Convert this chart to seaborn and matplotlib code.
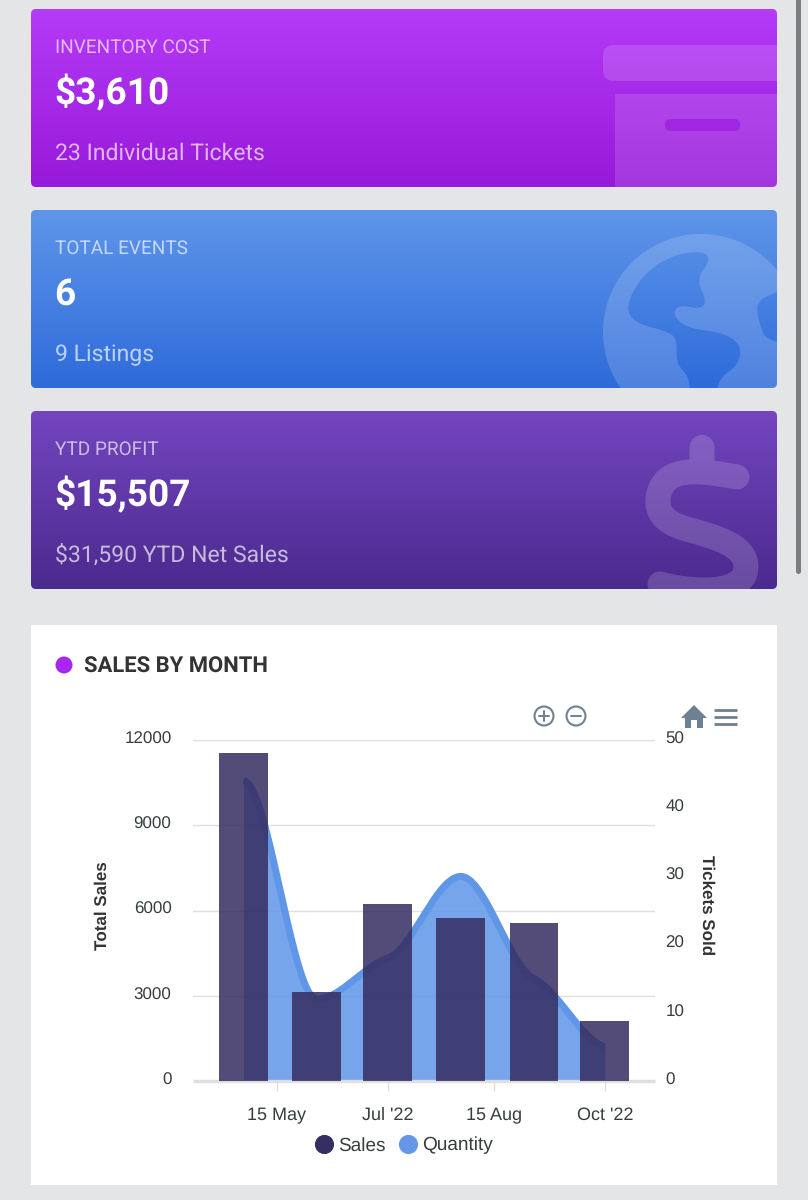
import numpy as np
import pandas as pd
import matplotlib
matplotlib.use("Agg")
import matplotlib.pyplot as plt
import matplotlib.dates as mdates
import matplotlib.transforms as mtransforms
from matplotlib.colors import to_rgb
from matplotlib.lines import Line2D
from matplotlib.patches import FancyBboxPatch, Rectangle, Circle, PathPatch, Polygon
from matplotlib.path import Path
import seaborn as sns

# ---------- data ----------
months = ["2022-05-01", "2022-06-01", "2022-07-01", "2022-08-01", "2022-09-01", "2022-10-01"]
sales = [11550, 3140, 6230, 5740, 5560, 2120]
quantity = [44, 12, 18, 30, 15, 5]
sales_ticks = [0, 3000, 6000, 9000, 12000]
qty_ticks = [0, 10, 20, 30, 40, 50]
x_tick_dates = ["2022-05-15", "2022-07-01", "2022-08-15", "2022-10-01"]
x_tick_labels = ["15 May", "Jul '22", "15 Aug", "Oct '22"]
card_titles = ["INVENTORY COST", "TOTAL EVENTS", "YTD PROFIT"]
card_values = ["$3,610", "6", "$15,507"]
card_subs = ["23 Individual Tickets", "9 Listings", "$31,590 YTD Net Sales"]
card_tops = [9, 210, 411]
card_grads = [("#b53bf7", "#9719d9"), ("#5f96e9", "#2e6bda"), ("#7345bf", "#4b2a8e")]

BG = "#e3e5e7"
W, H = 808, 1200
sns.set_theme(style="white")
plt.rcParams["font.family"] = ["Liberation Sans", "DejaVu Sans"]
plt.rcParams["text.hinting"] = "no_hinting"
plt.rcParams["text.hinting_factor"] = 1

fig = plt.figure(figsize=(W / 100, H / 100), dpi=100, facecolor=BG)

# ---------- page layer in pixel coordinates ----------
page = fig.add_axes([0, 0, 1, 1], zorder=-5)
page.set_xlim(0, W)
page.set_ylim(H, 0)
page.axis("off")


def gradient(ax, x0, y0, x1, y1, top, bottom, clip):
    t = np.linspace(0, 1, 256)[:, None]
    a, b = np.array(to_rgb(top)), np.array(to_rgb(bottom))
    img = (a[None, None, :] * (1 - t[:, :, None]) + b[None, None, :] * t[:, :, None])
    im = ax.imshow(img, extent=(x0, x1, y1, y0), aspect="auto", zorder=1, interpolation="bilinear")
    im.set_clip_path(clip)
    return im


def smooth_closed(points):
    p = np.array(points, float)
    mids = (p + np.roll(p, -1, axis=0)) / 2
    verts = [mids[-1]]
    codes = [Path.MOVETO]
    for i in range(len(p)):
        verts += [p[i], mids[i]]
        codes += [Path.CURVE3, Path.CURVE3]
    return Path(verts, codes)


def zoom_pts(points):
    return [(560 + x / 3, y / 2.613) for x, y in points]


clips = []
for top_y, grad in zip(card_tops, card_grads):
    card = FancyBboxPatch((31, top_y), 746, 178, boxstyle="round,pad=0,rounding_size=5",
                          fc="none", ec="none", transform=page.transData)
    page.add_patch(card)
    gradient(page, 31, top_y, 777, top_y + 178, grad[0], grad[1], card)
    clips.append(card)

# box icon
c = clips[0]
for p in [FancyBboxPatch((603, 45), 240, 36, boxstyle="round,pad=0,rounding_size=11", fc="white", alpha=0.14, ec="none", zorder=2),
          Rectangle((615, 94), 170, 100, fc="white", alpha=0.13, ec="none", zorder=2),
          FancyBboxPatch((665, 119), 75, 12, boxstyle="round,pad=0,rounding_size=5.5", fc="#a026e2", ec="none", zorder=3)]:
    page.add_patch(p)
    p.set_clip_path(c)

# globe icon
c = clips[1]
globe = Circle((701, 332), 98, fc="white", alpha=0.16, ec="none", zorder=2)
page.add_patch(globe)
globe.set_clip_path(c)
land_a = zoom_pts([(432, 655), (452, 680), (408, 730), (442, 790), (415, 808), (360, 796), (335, 820), (380, 858),
                   (485, 868), (545, 900), (535, 955), (480, 985), (465, 1040), (390, 1040), (388, 985), (348, 950),
                   (352, 885), (320, 865), (225, 845), (195, 800), (250, 715), (340, 665)])
land_b = zoom_pts([(640, 766), (700, 750), (700, 900), (620, 888), (603, 860), (585, 790)])
for pts in (land_a, land_b):
    patch = PathPatch(smooth_closed(pts), fc="none", ec="none")
    page.add_patch(patch)
    im = gradient(page, 31, 210, 777, 388, card_grads[1][0], card_grads[1][1], patch)
    im.set_zorder(3)

# dollar icon
c = clips[2]
dollar = Path(
    [(702, 447.5), (702, 470),
     (737, 477), (715, 473), (695, 470), (682, 473), (665, 476), (658, 488), (658, 502),
     (658, 518), (672, 525), (690, 530), (715, 537), (746, 545), (746, 567),
     (746, 582), (730, 590), (705, 590), (690, 590), (675, 588), (660, 584)],
    [Path.MOVETO, Path.LINETO, Path.MOVETO] + [Path.CURVE4] * 18)
d = PathPatch(dollar, fc="none", ec="white", alpha=0.16, lw=25 * 0.72, capstyle="round", joinstyle="round", zorder=2)
page.add_patch(d)
d.set_clip_path(c)

# card text
for top_y, title, value, sub in zip(card_tops, card_titles, card_values, card_subs):
    page.text(55, top_y + 44, title, color="white", alpha=0.66, fontsize=13.45, family="Roboto", zorder=5, va="baseline")
    page.text(54.5, top_y + 95, value, color="white", fontsize=26.5, family="Roboto", weight="bold", zorder=5, va="baseline")
    page.text(55, top_y + 151, sub, color="white", alpha=0.68, fontsize=16.85, family="Roboto", zorder=5, va="baseline")

# white panel and heading
page.add_patch(Rectangle((31, 625), 746, 560, fc="white", ec="none", zorder=1))
page.add_patch(Circle((64, 665), 8.5, fc="#a926f0", ec="none", zorder=2))
page.text(84, 673, "SALES BY MONTH", color="#333333", fontsize=15.7, family="Roboto", weight="bold", zorder=3, va="baseline")

# scrollbar
page.add_patch(FancyBboxPatch((796, -10), 5, 584, boxstyle="round,pad=0,rounding_size=2.5", fc="#7b7d80", ec="none", zorder=2))

# toolbar icons
ICON = "#6e8192"
for cx, sym in ((544, "+"), (576, "-")):
    page.add_patch(Circle((cx, 716), 9.5, fc="none", ec=ICON, lw=1.5, zorder=3))
    page.plot([cx - 5, cx + 5], [716, 716], color=ICON, lw=1.4, zorder=3)
    if sym == "+":
        page.plot([cx, cx], [711, 721], color=ICON, lw=1.4, zorder=3)
page.add_patch(Polygon([(694, 705), (707, 718), (703, 718), (703, 728), (697, 728), (697, 720), (691, 720), (691, 728),
                        (685, 728), (685, 718), (681, 718)], closed=True, fc=ICON, ec="none", zorder=3))
for yy in (709.5, 716.5, 723.5):
    page.plot([713.5, 737], [yy, yy], color=ICON, lw=2.0, solid_capstyle="butt", zorder=3)
page.set_xlim(0, W)
page.set_ylim(H, 0)

# ---------- chart ----------
L, R, T, B = 193, 655, 740, 1081
ax = fig.add_axes([L / W, 1 - B / H, (R - L) / W, (B - T) / H], zorder=3)
ax2 = ax.twinx()
ax.set_zorder(3)
ax2.set_zorder(2)
ax.patch.set_visible(False)
ax2.patch.set_visible(False)

x_num = mdates.date2num(pd.to_datetime(months))
df = pd.DataFrame({"date": x_num, "sales": sales, "quantity": quantity})


def monotone_curve(x, y, per=60):
    """Monotone cubic smoothing of the line, as the source chart draws it."""
    x, y = np.asarray(x, float), np.asarray(y, float)
    h = np.diff(x)
    s = np.diff(y) / h
    m = np.zeros_like(y)
    for i in range(1, len(y) - 1):
        if s[i - 1] * s[i] > 0:
            m[i] = 0.4 * 2 * s[i - 1] * s[i] / (s[i - 1] + s[i])
    m[-1] = s[-1] * 0.3
    xs, ys = [], []
    for i in range(len(h)):
        t = np.linspace(0, 1, per, endpoint=i == len(h) - 1)
        xs.append(x[i] + t * h[i])
        ys.append((2 * t**3 - 3 * t**2 + 1) * y[i] + (t**3 - 2 * t**2 + t) * h[i] * m[i]
                  + (-2 * t**3 + 3 * t**2) * y[i + 1] + (t**3 - t**2) * h[i] * m[i + 1])
    return np.concatenate(xs), np.concatenate(ys)


cx, cy = monotone_curve(df["date"], df["quantity"])
ax2.fill_between(cx, 0, cy, color="#5f96e8", alpha=0.85, lw=0, zorder=2)
sns.lineplot(x=cx, y=cy, ax=ax2, color="#5f96e8", lw=5, solid_capstyle="butt", estimator=None, sort=False, legend=False, zorder=3)

sns.barplot(data=df, x="date", y="sales", ax=ax, native_scale=True, width=0.69, color="#352c60", alpha=0.85,
            saturation=1, linewidth=0, errorbar=None, zorder=3)

px_per_day = (604.9 - 243.5) / (x_num[-1] - x_num[0])
xlim = (x_num[0] - (243.5 - L) / px_per_day, x_num[-1] + (R - 604.9) / px_per_day)
ax.set_xlim(*xlim)
ax.set_ylim(0, 12000)
ax2.set_ylim(0, 50)
ax.set_xlabel("")
ax.set_ylabel("")
ax2.set_xlabel("")
ax2.set_ylabel("")

TEXT = "#373d3f"
ax.set_xticks(mdates.date2num(pd.to_datetime(x_tick_dates)), x_tick_labels)
ax.tick_params(axis="x", length=7, width=1, color="#dedede", labelsize=13.3, labelcolor=TEXT, pad=8 * 0.72 + 6, bottom=True)
ax.set_yticks(sales_ticks)
ax.tick_params(axis="y", length=0, labelsize=12.3, labelcolor=TEXT, pad=21.5 * 0.72)
ax2.set_yticks(qty_ticks)
ax2.tick_params(axis="y", length=0, labelsize=12.3, labelcolor=TEXT, pad=10.5 * 0.72)

# grid follows the left axis but sits beneath the area layer
ax2.yaxis.remove_overlapping_locs = False
ax2.set_yticks([s / 12000 * 50 for s in sales_ticks], minor=True)
ax2.tick_params(axis="y", which="minor", length=0, labelright=False)
ax2.grid(which="minor", axis="y", color="#dcdfe3", lw=1.0, zorder=0)
ax2.grid(which="major", visible=False)
ax.grid(False)
ax2.set_axisbelow(True)

for a in (ax, ax2):
    for name in ("top", "left", "right"):
        a.spines[name].set_visible(False)
ax2.spines["bottom"].set_visible(False)
ax.spines["bottom"].set_visible(True)
ax.spines["bottom"].set_color("#dedede")
ax.spines["bottom"].set_linewidth(2.4)
ax.spines["bottom"].set_capstyle("butt")

shift = mtransforms.ScaledTranslation(0, 2.5 / 100, fig.dpi_scale_trans)
for lab in list(ax.get_yticklabels()) + list(ax2.get_yticklabels()):
    lab.set_transform(lab.get_transform() + shift)

# axis titles
fig.text(102.5 / W, 1 - 906 / H, "Total Sales", rotation=90, ha="center", va="center", fontsize=12.1, weight="bold", color="#333333")
fig.text(706.5 / W, 1 - 905 / H, "Tickets Sold", rotation=270, ha="center", va="center", fontsize=12.4, weight="bold", color="#333333")

# legend
handles = [Line2D([], [], ls="", marker="o", ms=13.8, mfc="#352e63", mec="none", label="Sales"),
           Line2D([], [], ls="", marker="o", ms=13.8, mfc="#6497e8", mec="none", label="Quantity")]
fig.legend(handles=handles, loc="center", bbox_to_anchor=(402 / W, 1 - 1145.5 / H), ncols=2, frameon=False,
           fontsize=13.4, labelcolor=TEXT, handletextpad=0.05, columnspacing=0.53, handlelength=1.4, borderpad=0)

fig.savefig("out.png", dpi=100, facecolor=BG)
